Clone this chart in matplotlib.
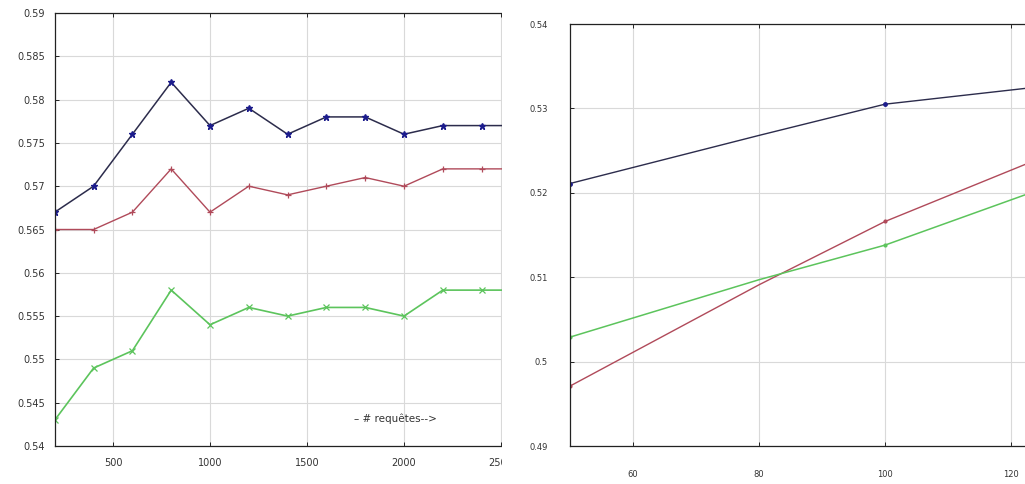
import matplotlib.pyplot as plt
from matplotlib.patches import Rectangle

# left panel: number of requests
n_req = [200, 400, 600, 800, 1000, 1200, 1400, 1600, 1800, 2000, 2200, 2400, 2600]
blue_left = [0.567, 0.570, 0.576, 0.582, 0.577, 0.579, 0.576, 0.578, 0.578, 0.576, 0.577, 0.577, 0.577]
red_left = [0.565, 0.565, 0.567, 0.572, 0.567, 0.570, 0.569, 0.570, 0.571, 0.570, 0.572, 0.572, 0.572]
green_left = [0.543, 0.549, 0.551, 0.558, 0.554, 0.556, 0.555, 0.556, 0.556, 0.555, 0.558, 0.558, 0.558]
left_xticks = [500, 1000, 1500, 2000, 2500]
left_yticks = [0.54, 0.545, 0.55, 0.555, 0.56, 0.565, 0.57, 0.575, 0.58, 0.585, 0.59]

# right panel
x_right = [50, 80, 100, 125]
blue_right = [0.5211, 0.5268, 0.5305, 0.5326]
red_right = [0.4971, 0.5091, 0.5166, 0.5242]
green_right = [0.5029, 0.5097, 0.5138, 0.5205]
right_xticks = [60, 80, 100, 120]
right_yticks = [0.49, 0.5, 0.51, 0.52, 0.53, 0.54]

BLUE_LINE = "#2c2c4c"
BLUE_MK = "#1c1c8c"
RED = "#b04a5a"
GREEN = "#5cc45c"
TXT = "#333333"
GRID = "#d9d9d9"

fig = plt.figure(figsize=(10.25, 4.84), dpi=100)
W, H = 1025.0, 484.0


def style(ax, fs):
    ax.grid(True, color=GRID, lw=0.8)
    ax.set_axisbelow(True)
    for s in ax.spines.values():
        s.set_color("#222222")
        s.set_linewidth(0.9)
    ax.tick_params(direction="in", length=3, width=0.7, colors="#222222",
                   labelcolor=TXT, labelsize=fs, top=True, right=True)
    ax.yaxis.set_major_formatter(plt.FuncFormatter(lambda v, p: "%g" % round(v, 4)))


# left axes, wider than what is shown (the picture is cropped at ~502 px)
ax1 = fig.add_axes([54.8 / W, 38 / H, 465.6 / W, 433 / H])
ax1.set_zorder(0)
ax1.plot(n_req, blue_left, color=BLUE_LINE, lw=1.1, marker="*", ms=5,
         mfc=BLUE_MK, mec=BLUE_MK)
ax1.plot(n_req, red_left, color=RED, lw=1.0, marker="+", ms=5, mew=0.9)
ax1.plot(n_req, green_left, color=GREEN, lw=1.2, marker="x", ms=4, mew=0.9)
ax1.set_xlim(200, 2600)
ax1.set_ylim(0.54, 0.59)
ax1.set_xticks(left_xticks)
ax1.set_yticks(left_yticks)
style(ax1, 7)
ax1.tick_params(axis="y", pad=7)
ax1.tick_params(axis="x", pad=9)
ax1.text(1740, 0.5432, "\u2013 # requêtes-->", fontsize=7.5, color=TXT, va="center", ha="left")

# white cover for the cropped part
fig.add_artist(Rectangle((502 / W, 0), 1 - 502 / W, 1, transform=fig.transFigure,
                         facecolor="white", edgecolor="none", zorder=1))

# right axes, extending past the right edge of the picture
ax2 = fig.add_axes([570 / W, 38 / H, 567 / W, 422 / H])
ax2.set_zorder(2)
ax2.plot(x_right, blue_right, color=BLUE_LINE, lw=1.0, marker="o", ms=2.5,
         mfc=BLUE_MK, mec=BLUE_MK, markevery=[0, 2])
ax2.plot(x_right, red_right, color=RED, lw=1.0, marker="o", ms=2, markevery=[0, 2])
ax2.plot(x_right, green_right, color=GREEN, lw=1.1, marker="o", ms=2, markevery=[0, 2])
ax2.set_xlim(50, 140)
ax2.set_ylim(0.49, 0.54)
ax2.set_xticks(right_xticks)
ax2.set_yticks(right_yticks)
style(ax2, 6)
ax2.tick_params(axis="y", pad=16)
ax2.tick_params(axis="x", pad=17)

fig.savefig("out.png", dpi=100)
